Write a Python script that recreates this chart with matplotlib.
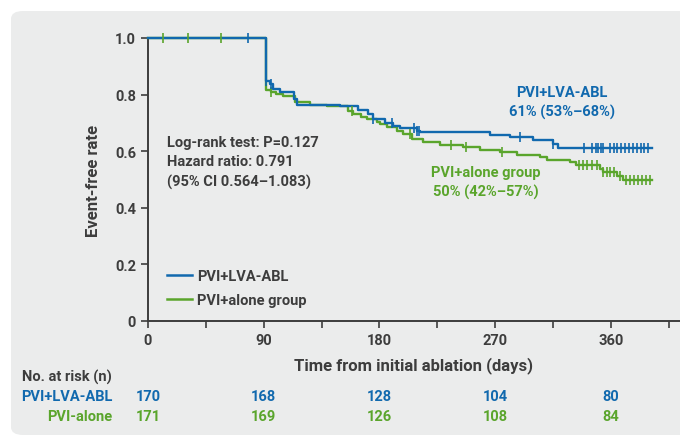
import numpy as np
import matplotlib
matplotlib.use('Agg')
from matplotlib import pyplot as plt
from matplotlib.patches import FancyBboxPatch
from matplotlib.lines import Line2D

plt.rcParams['font.family'] = ['Roboto', 'DejaVu Sans']
plt.rcParams['font.weight'] = 'bold'

BLUE = '#1169ae'
GREEN = '#5aa52c'
DARK = '#3d3d3d'
PANEL = '#ebecec'

# Kaplan-Meier steps (days, event-free rate)
lva_t = [0, 91.5, 94.9, 97.2, 102.6, 113.5, 115.6, 149.3, 163.3, 171, 175, 184, 190.5,
         196, 209, 211.5, 266, 281.5, 299.5, 315, 319, 392]
lva_s = [1.0, 0.849, 0.837, 0.82, 0.81, 0.785, 0.764, 0.76, 0.747, 0.73, 0.714, 0.70, 0.69,
         0.682, 0.672, 0.667, 0.657, 0.649, 0.64, 0.625, 0.612, 0.612]
lva_cens = [78, 91.5, 95.6, 175, 189.5, 207, 209, 210.5, 289, 315, 339, 345, 348, 350, 352,
            354, 359, 362, 365, 368, 371, 374, 377, 380, 383, 386, 389]

alone_t = [0, 92, 96, 99.8, 105, 114.3, 126, 139, 155.5, 159.5, 166, 170, 178, 180.5, 186,
           193.5, 198.3, 205, 214, 227, 245, 258, 274, 287, 305, 310, 328, 333, 351.5, 354,
           364.5, 369.4, 392]
alone_s = [1.0, 0.817, 0.81, 0.802, 0.794, 0.773, 0.764, 0.759, 0.743, 0.73, 0.722, 0.714,
           0.704, 0.696, 0.684, 0.672, 0.661, 0.643, 0.634, 0.623, 0.614, 0.604, 0.596, 0.587,
           0.578, 0.569, 0.561, 0.551, 0.537, 0.525, 0.513, 0.499, 0.499]
alone_cens = [12, 31, 56.5, 96, 158.4, 204, 236, 247, 275, 335, 338, 341, 345, 349, 354, 357,
              359, 362, 367, 372, 375, 378, 381, 384, 387, 390]

risk_days = [0, 90, 180, 270, 360]
risk_lva = [170, 168, 128, 104, 80]
risk_alone = [171, 169, 126, 108, 84]

fig = plt.figure(figsize=(6.8, 4.39), dpi=100)
W, H = 680, 439

# light grey rounded panel behind everything
panel = FancyBboxPatch((11 / W, 3 / H), 700 / W, 424 / H,
                       boxstyle='round,pad=0,rounding_size=0.018',
                       transform=fig.transFigure, facecolor=PANEL, edgecolor='none', zorder=-5)
fig.patches.append(panel)

ax = fig.add_axes([148 / W, 117 / H, 532 / W, 283 / H])
ax.set_facecolor('none')
ax.set_zorder(2)


def steps(t, s, cens, color):
    ax.step(t, s, where='post', color=color, lw=1.7, zorder=3, clip_on=False)
    idx = np.searchsorted(t, cens, side='right') - 1
    cy = np.array(s)[idx]
    ax.plot(cens, cy, ls='none', marker='|', ms=7, mew=1.2, color=color, zorder=4, clip_on=False)


steps(alone_t, alone_s, alone_cens, GREEN)
steps(lva_t, lva_s, lva_cens, BLUE)

ax.set_xlim(0, 532 / 1.286)
ax.set_ylim(0, 1.0)
ax.set_xticks(np.arange(0, 410, 45))
ax.set_xticklabels(['0', '', '90', '', '180', '', '270', '', '360', ''])
ax.set_yticks([0, 0.2, 0.4, 0.6, 0.8, 1.0])
ax.set_yticklabels(['0', '0.2', '0.4', '0.6', '0.8', '1.0'])
for sp in ['top', 'right']:
    ax.spines[sp].set_visible(False)
for sp in ['left', 'bottom']:
    ax.spines[sp].set_color(DARK)
    ax.spines[sp].set_linewidth(1.4)
ax.tick_params(axis='both', colors=DARK, labelcolor=DARK, length=5, width=1.2, labelsize=10.5)
ax.tick_params(axis='x', pad=4)
for lab in ax.get_xticklabels() + ax.get_yticklabels():
    lab.set_fontweight('bold')

ax.set_ylabel('Event-free rate', fontsize=12, fontweight='bold', color=DARK, labelpad=10)
ax.set_xlabel('Time from initial ablation (days)', fontsize=12, fontweight='bold', color=DARK,
              labelpad=6)

ax.text(0.035, 0.562, 'Log-rank test: P=0.127\nHazard ratio: 0.791\n(95% CI 0.564\u20131.083)',
        transform=ax.transAxes, fontsize=10.5, color=DARK, va='center', ha='left',
        linespacing=1.45)

ax.text(322, 0.774, 'PVI+LVA-ABL\n61% (53%\u201368%)', color=BLUE, fontsize=10.5,
        ha='center', va='center', linespacing=1.45)
ax.text(263, 0.491, 'PVI+alone group\n50% (42%\u201357%)', color=GREEN, fontsize=10.5,
        ha='center', va='center', linespacing=1.45)

handles = [Line2D([], [], color=BLUE, lw=1.8), Line2D([], [], color=GREEN, lw=1.8)]
ax.legend(handles, ['PVI+LVA-ABL', 'PVI+alone group'], loc='lower left',
          bbox_to_anchor=(19 / 532, 0.05), frameon=False, fontsize=10.5, handlelength=1.7,
          handletextpad=0.35, labelspacing=0.65, labelcolor=DARK, borderpad=0,
          borderaxespad=0)

# numbers at risk
tr = ax.get_xaxis_transform()
fig.text(22 / W, 1 - 377 / H, 'No. at risk (n)', fontsize=10.5, color=DARK, va='center')
fig.text(112 / W, 1 - 397 / H, 'PVI+LVA-ABL', fontsize=10.5, color=BLUE, va='center', ha='right')
fig.text(112 / W, 1 - 417 / H, 'PVI-alone', fontsize=10.5, color=GREEN, va='center', ha='right')
for d, a, b in zip(risk_days, risk_lva, risk_alone):
    ax.text(d, -(397 - 322) / 283, str(a), transform=tr, color=BLUE, fontsize=10.5,
            ha='center', va='center')
    ax.text(d, -(417 - 322) / 283, str(b), transform=tr, color=GREEN, fontsize=10.5,
            ha='center', va='center')

fig.savefig('out.png', dpi=100)
